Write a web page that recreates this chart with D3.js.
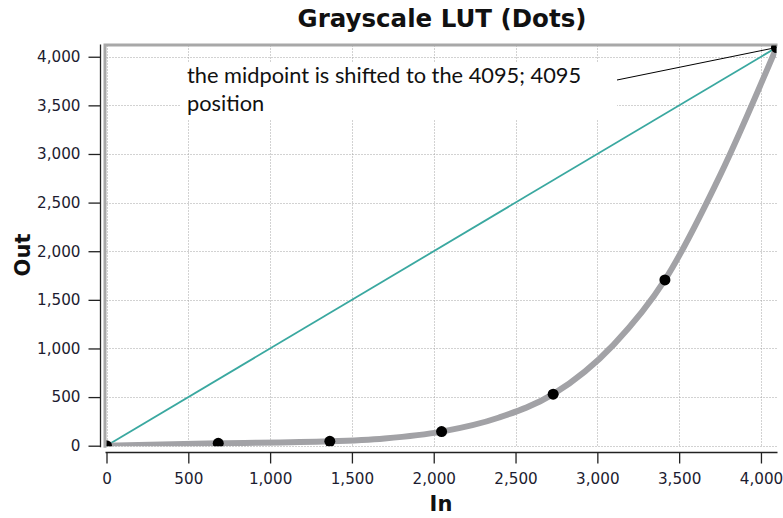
<!DOCTYPE html>
<html>
<head>
<meta charset="utf-8">
<script src="https://cdn.jsdelivr.net/npm/d3@7"></script>
<style>
  html, body { margin: 0; padding: 0; background: #fff; }
  svg { display: block; }
</style>
</head>
<body>
<svg id="chart" width="783" height="518"></svg>
<script>
// Lookup-table curve (input level -> output level)
const curveIn  = [0, 683, 1365, 1700, 2048, 2400, 2730, 3100, 3413, 3750, 4095];
const curveOut = [0, 24, 45, 75, 145, 290, 530, 1040, 1705, 2780, 4095];

// Control dots placed along the curve
const dotIn  = [0, 683, 1365, 2048, 2730, 3413, 4095];
const dotOut = [0, 24, 45, 145, 530, 1705, 4095];

// Identity reference line
const identityIn  = [0, 4095];
const identityOut = [0, 4095];

const xTicks = [0, 500, 1000, 1500, 2000, 2500, 3000, 3500, 4000];
const yTicks = [0, 500, 1000, 1500, 2000, 2500, 3000, 3500, 4000];

const titleText = "Grayscale LUT (Dots)";
const xTitle = "In";
const yTitle = "Out";
const noteLines = ["the midpoint is shifted to the 4095; 4095", "position"];
const notePoint = [4095, 4095];

const svg = d3.select("#chart");

const plot = { left: 106.5, right: 776.5, top: 47.5, bottom: 445.7 };
const x = d3.scaleLinear().domain([0, 4095]).range([plot.left, plot.right]);
const y = d3.scaleLinear().domain([0, 4095]).range([plot.bottom, plot.top]);
const fmt = d3.format(",");

svg.append("defs").append("clipPath").attr("id", "plotclip")
  .append("rect")
  .attr("x", plot.left).attr("y", plot.top - 2)
  .attr("width", plot.right - plot.left).attr("height", plot.bottom - plot.top + 2.5);

// Dotted grid
const grid = svg.append("g").attr("stroke", "#a4a4a4").attr("stroke-width", 1)
  .attr("stroke-dasharray", "1,2");
grid.selectAll("line.v").data(xTicks).join("line")
  .attr("x1", d => Math.round(x(d)) + 0.5).attr("x2", d => Math.round(x(d)) + 0.5)
  .attr("y1", plot.top - 2).attr("y2", plot.bottom + 1);
grid.selectAll("line.h").data(yTicks).join("line")
  .attr("x1", plot.left).attr("x2", plot.right)
  .attr("y1", d => Math.round(y(d)) + 0.5).attr("y2", d => Math.round(y(d)) + 0.5);

// Plot frame (top and left edges)
svg.append("path")
  .attr("d", `M${plot.left - 1.5},${plot.bottom + 2}V${plot.top - 2.5}H${plot.right + 1}`)
  .attr("fill", "none").attr("stroke", "#a8a8a8").attr("stroke-width", 3);

const g = svg.append("g").attr("clip-path", "url(#plotclip)");

// Identity line
g.append("path")
  .datum(identityIn.map((v, i) => [v, identityOut[i]]))
  .attr("d", d3.line().x(d => x(d[0])).y(d => y(d[1])))
  .attr("fill", "none").attr("stroke", "#3aa8a0").attr("stroke-width", 1.8);

// LUT curve
g.append("path")
  .datum(curveIn.map((v, i) => [v, curveOut[i]]))
  .attr("d", d3.line().x(d => x(d[0])).y(d => y(d[1])).curve(d3.curveMonotoneX))
  .attr("fill", "none").attr("stroke", "#a2a2a6").attr("stroke-width", 6);

// Dots
g.selectAll("circle").data(dotIn.map((v, i) => [v, dotOut[i]])).join("circle")
  .attr("cx", d => x(d[0])).attr("cy", d => y(d[1])).attr("r", 5.5)
  .attr("fill", "#000");

// Annotation box and leader line
const note = svg.append("g");
note.append("rect").attr("x", 180).attr("y", 62).attr("width", 437).attr("height", 58)
  .attr("fill", "#fff");
note.append("line")
  .attr("x1", 617).attr("y1", 80)
  .attr("x2", x(notePoint[0])).attr("y2", y(notePoint[1]))
  .attr("stroke", "#000").attr("stroke-width", 1);
note.selectAll("text").data(noteLines).join("text")
  .attr("x", 187).attr("y", (d, i) => 83 + i * 28)
  .attr("font-family", "Lato, 'Open Sans', sans-serif").attr("font-size", 21.8)
  .attr("fill", "#111")
  .text(d => d);

// Axes
const tickFont = "'DejaVu Sans', Verdana, sans-serif";
const xAxis = svg.append("g").attr("transform", `translate(0,452.5)`)
  .call(d3.axisBottom(x).tickValues(xTicks).tickFormat(fmt).tickSize(11).tickSizeOuter(0));
xAxis.select(".domain").attr("d", `M${plot.left - 1},0H${plot.right + 1}`);
const yAxis = svg.append("g").attr("transform", `translate(100.5,0)`)
  .call(d3.axisLeft(y).tickValues(yTicks).tickFormat(fmt).tickSize(12).tickSizeOuter(0));
yAxis.select(".domain").attr("d", `M0,${plot.top - 3}V${plot.bottom + 1.5}`);
[xAxis, yAxis].forEach(a => {
  a.selectAll("path, line").attr("stroke", "#222").attr("stroke-width", 1.3);
  a.selectAll("text").attr("font-family", tickFont).attr("font-size", 15.2).attr("fill", "#1c1c30");
});
xAxis.selectAll("text").attr("y", 20.5).attr("dy", "0.71em");
yAxis.selectAll("text").attr("x", -20);

// Titles
svg.append("text").attr("x", 442).attr("y", 27).attr("text-anchor", "middle")
  .attr("font-family", tickFont).attr("font-weight", "bold").attr("font-size", 24.5)
  .attr("fill", "#111").text(titleText);
svg.append("text").attr("x", 441).attr("y", 511).attr("text-anchor", "middle")
  .attr("font-family", tickFont).attr("font-weight", "bold").attr("font-size", 21)
  .attr("fill", "#111").text(xTitle);
svg.append("text").attr("transform", "translate(30,255) rotate(-90)").attr("text-anchor", "middle")
  .attr("font-family", tickFont).attr("font-weight", "bold").attr("font-size", 21)
  .attr("fill", "#111").text(yTitle);
</script>
</body>
</html>
